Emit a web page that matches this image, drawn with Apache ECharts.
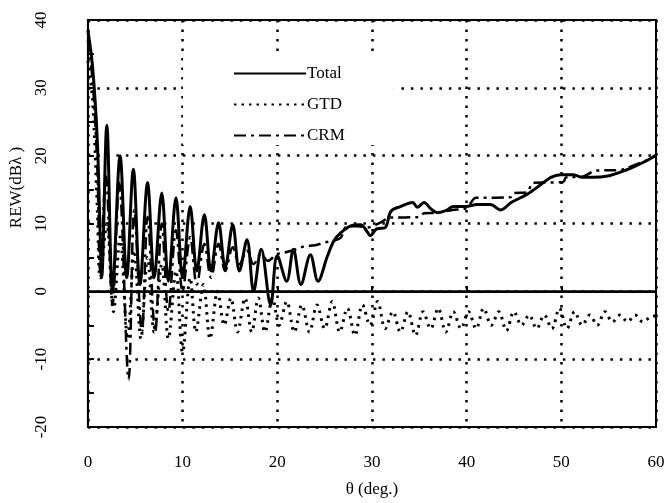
<!DOCTYPE html>
<html>
<head>
<meta charset="utf-8">
<script src="https://cdn.jsdelivr.net/npm/echarts@6/dist/echarts.min.js"></script>
<style>html,body{margin:0;padding:0;background:#fff}#c{width:669px;height:503px}</style>
</head>
<body>
<div id="c"></div>
<script>
// Data
const xTicks = [0, 10, 20, 30, 40, 50, 60];
const yTicks = [-20, -10, 0, 10, 20, 30, 40];
const seriesNames = ['Total', 'GTD', 'CRM'];

const totalTheta = [0, 0.5, 1.0, 1.3, 1.45, 2.0, 2.6, 3.4, 4.1, 4.8, 5.5, 6.3, 7.0, 7.8, 8.5, 9.3, 10.0, 10.8, 11.5, 12.3, 13.0, 13.8, 14.5, 15.3, 16.0, 16.8, 17.5, 18.3, 19.3, 20.0, 21.0, 21.7, 22.5, 23.5, 24.3, 25.3, 26.0, 26.7, 27.7, 28.8, 29.5, 29.8, 30.5, 31.4, 32.0, 33.0, 34.3, 34.8, 35.5, 36.2, 36.9, 37.8, 38.6, 39.9, 41.1, 42.5, 43.6, 44.7, 46.4, 47.8, 48.9, 49.9, 51.3, 52.2, 53.4, 54.9, 56.3, 57.7, 59.2, 60];
const totalVal = [38.5, 33, 22, 8, 2, 24.5, 0, 20, 2, 18, 1, 16, 2, 14.5, 1.5, 13.8, 2, 12.5, 3, 11.3, 3, 10.1, 3.5, 9.8, 3, 7.6, 0, 6.2, -2, 5.3, 1.5, 6.2, 1, 5.4, 1.5, 5.2, 7.5, 8.6, 9.6, 9.8, 8.8, 8.2, 9.2, 9.4, 11.8, 12.5, 13.1, 12.4, 13.1, 12.2, 11.6, 11.9, 12.5, 12.5, 12.8, 12.8, 12, 13.1, 14.3, 15.7, 16.8, 17.2, 17.2, 16.8, 16.8, 17, 17.6, 18.4, 19.4, 20.1];

const gtdTheta = [0, 0.5, 1.0, 1.3, 2.0, 2.7, 3.4, 4.2, 4.9, 5.6, 6.3, 7.0, 7.8, 8.5, 9.3, 10.0, 10.8, 11.4, 12.2, 12.9, 13.7, 14.4, 15.1, 15.8, 16.6, 17.3, 18.0, 18.7, 19.5, 20.2, 21.0, 21.8, 22.6, 23.4, 24.2, 25.0, 25.8, 26.6, 27.4, 28.2, 29.0, 29.8, 30.6, 31.4, 32.2, 33.0, 33.8, 34.6, 35.4, 36.2, 37.0, 37.8, 38.6, 39.4, 40.2, 41.0, 41.8, 42.6, 43.4, 44.2, 45.0, 45.8, 46.6, 47.4, 48.2, 49.0, 49.8, 50.6, 51.4, 52.2, 53.0, 53.8, 54.6, 55.4, 56.2, 57.0, 57.8, 58.6, 59.4, 60];
const gtdVal = [34, 28, 12, 2, 10, -3, 8, -7, 6, -7, 5, -6, 4, -7, 3, -9, 2, -6, 1, -7, 0, -5, -1, -6, -1, -6, -1, -6, -1, -5, -1.5, -6, -2, -6, -2, -5.5, -1.5, -6, -2.5, -6.5, -2, -5, -1.5, -5.5, -3, -6, -3, -6.5, -3, -5.5, -2.5, -6, -3, -5.5, -3, -5.5, -2.5, -5, -3, -5.8, -3, -5, -3.5, -5.5, -3.5, -5.5, -2.5, -5.5, -3, -5, -3.5, -5, -3, -4.5, -3.5, -4.5, -3.5, -4.5, -3.8, -3.6];

const crmTheta = [0, 0.5, 1.0, 1.3, 1.9, 2.6, 3.3, 4.3, 4.9, 5.7, 6.3, 7.1, 7.8, 8.5, 9.3, 10.0, 10.8, 11.5, 12.3, 13.0, 13.8, 14.5, 15.3, 16.0, 16.8, 17.5, 18.3, 19.0, 20.0, 21.0, 22.0, 22.8, 24.0, 25.0, 26.0, 26.7, 27.3, 28.5, 29.5, 30.2, 31.0, 31.9, 33.5, 35.1, 35.5, 37.0, 38.5, 40.0, 41.0, 43.0, 44.7, 45.0, 46.4, 47.0, 50.2, 50.5, 52.2, 53.7, 56.3, 57.5, 59.0, 60];
const crmVal = [37, 31, 18, 3, 17, -2, 16, -13, 12, -6, 11, -6, 10, -3, 9, 0, 8, 1, 7, 2, 7, 3, 6.5, 4, 6, 4, 5.5, 4.5, 5.5, 5.8, 6.2, 6.6, 6.8, 7.2, 7.5, 7.9, 9.5, 9.6, 9.4, 9.7, 10.2, 10.9, 10.9, 11, 11.5, 11.6, 12, 12.3, 13.8, 13.8, 13.9, 14.5, 14.6, 16, 16.1, 16.8, 16.9, 17.8, 17.9, 18.5, 19.3, 20];

const zip = (a, b) => a.map((t, i) => [t, b[i]]);

const font = 'Liberation Serif';
const chart = echarts.init(document.getElementById('c'), null, {renderer: 'canvas'});
chart.setOption({
  animation: false,
  backgroundColor: '#fff',
  textStyle: {fontFamily: font, color: '#000'},
  grid: {left: 87, right: 13, top: 20, bottom: 75, show: true, borderColor: '#000', borderWidth: 2, backgroundColor: 'transparent'},
  legend: {
    orient: 'vertical', left: 183, top: 53,
    padding: [12, 50, 1, 50],
    backgroundColor: '#fff',
    itemWidth: 72, itemHeight: 10, itemGap: 14,
    itemStyle: {opacity: 0},
    textStyle: {fontFamily: font, fontSize: 17, color: '#000', padding: [0, 0, 0, -4]},
    data: seriesNames
  },
  xAxis: {
    type: 'value', min: xTicks[0], max: xTicks[xTicks.length - 1], interval: 10,
    name: 'θ (deg.)', nameLocation: 'middle', nameGap: 54,
    nameTextStyle: {fontFamily: font, fontSize: 17, color: '#000'},
    axisLine: {show: true, lineStyle: {color: '#000', width: 2}},
    axisTick: {show: true, inside: true, length: 5, lineStyle: {color: '#000', width: 2}},
    axisLabel: {fontFamily: font, fontSize: 17, color: '#000', margin: 27},
    splitLine: {show: true, lineStyle: {color: '#000', width: 2.5, type: [2.5, 7]}}
  },
  yAxis: {
    type: 'value', min: yTicks[0], max: yTicks[yTicks.length - 1], interval: 10,
    name: 'REW(dBλ )', nameLocation: 'middle', nameGap: 60,
    nameTextStyle: {fontFamily: font, fontSize: 17, color: '#000', padding: [0, 0, 0, 72]},
    axisLine: {show: true, lineStyle: {color: '#000', width: 2}},
    axisTick: {show: true, inside: true, length: 6, lineStyle: {color: '#000', width: 2}},
    minorTick: {show: true, splitNumber: 2, length: 6, lineStyle: {color: '#000', width: 2}},
    axisLabel: {fontFamily: font, fontSize: 17, color: '#000', rotate: 90, margin: 38},
    splitLine: {show: true, lineStyle: {color: '#000', width: 2.5, type: [2.5, 7]}}
  },
  series: [
    {
      name: seriesNames[0], type: 'line', data: zip(totalTheta, totalVal), symbol: 'none', smooth: 0.35,
      lineStyle: {color: '#000', width: 3, type: 'solid'}, itemStyle: {color: '#000'}, z: 3,
      markLine: {silent: true, symbol: 'none', label: {show: false}, lineStyle: {color: '#000', width: 2.5, type: 'solid'}, data: [{yAxis: 0}]}
    },
    {
      name: seriesNames[1], type: 'line', data: zip(gtdTheta, gtdVal), symbol: 'none', smooth: 0.35,
      lineStyle: {color: '#000', width: 3, type: [2.5, 5]}, itemStyle: {color: '#000'}, z: 2
    },
    {
      name: seriesNames[2], type: 'line', data: zip(crmTheta, crmVal), symbol: 'none', smooth: 0.35,
      lineStyle: {color: '#000', width: 2.5, type: [12, 5, 3, 5]}, itemStyle: {color: '#000'}, z: 2
    }
  ]
});
</script>
</body>
</html>
